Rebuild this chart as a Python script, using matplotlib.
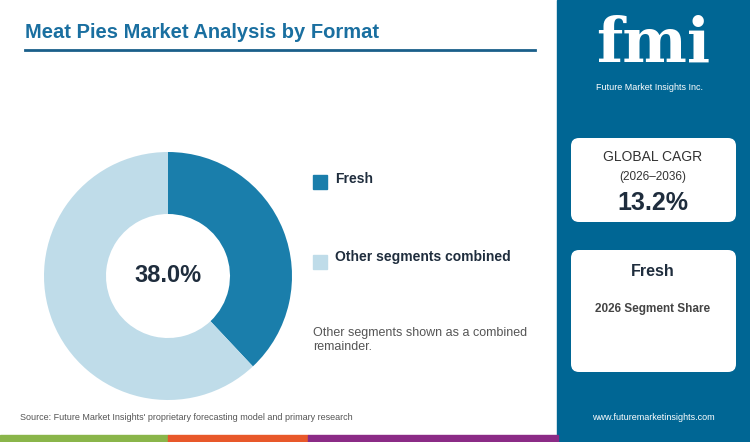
import matplotlib
matplotlib.use("Agg")
import matplotlib.pyplot as plt
from matplotlib.patches import FancyBboxPatch, Rectangle

plt.rcParams['font.family'] = ['Liberation Sans', 'DejaVu Sans']

labels = ["Fresh", "Other segments combined"]
values = [38.0, 62.0]
colors = ["#1a7eab", "#bfdce9"]
center_text = "38.0%"
cagr = "13.2%"

fig = plt.figure(figsize=(7.5, 4.42), dpi=100)
bg = fig.add_axes([0, 0, 1, 1])
bg.set_xlim(0, 750); bg.set_ylim(442, 0); bg.axis("off")

bg.add_patch(Rectangle((557, 0), 193, 442, color="#006694"))
for x0, x1, c in [(0, 168, "#8ab54a"), (168, 308, "#e8582a"), (308, 558, "#8b2b86")]:
    bg.add_patch(Rectangle((x0, 435), x1 - x0, 7, color=c))
bg.text(25, 33, "Meat Pies Market Analysis by Format", fontsize=14.5, fontweight="bold",
        color="#1a6fa0", va="center")
bg.plot([25, 535], [50, 50], color="#1a5f8a", lw=2)

bg.add_patch(Rectangle((313, 175), 14, 14, color=colors[0]))
bg.text(335, 179, labels[0], fontsize=10, fontweight="bold", color="#1f2d3d", va="center")
bg.add_patch(Rectangle((313, 255), 14, 14, color=colors[1]))
bg.text(335, 257, labels[1], fontsize=10, fontweight="bold", color="#1f2d3d", va="center")
bg.text(313, 340, "Other segments shown as a combined\nremainder.", fontsize=9,
        color="#555555", va="center", linespacing=1.3)

bg.text(20, 418, "Source: Future Market Insights' proprietary forecasting model and primary research",
        fontsize=6.5, color="#555555", va="center")
bg.text(653, 418, "www.futuremarketinsights.com", fontsize=6.5, color="white", va="center", ha="center")

bg.text(653, 45, "fmi", fontsize=44, fontweight="bold", color="white", ha="center", va="center",
        family="DejaVu Serif")
bg.text(650, 87, "Future Market Insights Inc.", fontsize=6.5, color="white", ha="center", va="center")

for (y, h) in [(138, 84), (250, 122)]:
    bg.add_patch(FancyBboxPatch((571, y), 165, h, boxstyle="round,pad=0,rounding_size=8",
                                facecolor="white", edgecolor="none"))
bg.text(653, 157, "GLOBAL CAGR", fontsize=10, color="#333333", ha="center", va="center")
bg.text(653, 177, "(2026\u20132036)", fontsize=8.5, color="#333333", ha="center", va="center")
bg.text(653, 203, cagr, fontsize=18, fontweight="bold", color="#1f2d3d", ha="center", va="center")
bg.text(653, 272, labels[0], fontsize=11.5, fontweight="bold", color="#1f2d3d", ha="center", va="center")
bg.text(653, 309, "2026 Segment Share", fontsize=8.5, fontweight="bold", color="#444444",
        ha="center", va="center")

cx, cy, r = 168, 276, 124
ax = fig.add_axes([(cx - r) / 750, 1 - (cy + r) / 442, 2 * r / 750, 2 * r / 442])
ax.pie(values, colors=colors, startangle=90, counterclock=False, radius=1,
       wedgeprops=dict(width=0.5, edgecolor="none"))
ax.set_xlim(-1, 1); ax.set_ylim(-1, 1)
ax.set_aspect("auto")
ax.text(0, 0, center_text, fontsize=17, fontweight="bold", color="#1f2d3d", ha="center", va="center")

fig.savefig("out.png", dpi=100)
